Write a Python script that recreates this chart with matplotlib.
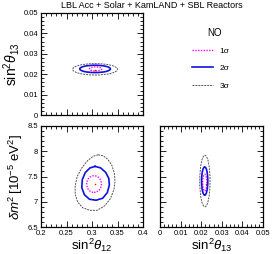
import matplotlib
matplotlib.use("Agg")
import matplotlib.pyplot as plt
from matplotlib.patches import Ellipse
from matplotlib.lines import Line2D
from matplotlib.ticker import MultipleLocator

plt.rcParams["font.family"] = ["Liberation Sans", "DejaVu Sans"]
plt.rcParams["mathtext.fontset"] = "custom"
plt.rcParams["mathtext.rm"] = "Liberation Sans"
plt.rcParams["mathtext.it"] = "Liberation Sans:italic"

# -----------------------------
# DATA
# -----------------------------
TITLE = "LBL Acc + Solar + KamLAND + SBL Reactors"
LEVELS = ["1σ", "2σ", "3σ"]

# best fit
BF_S12 = 0.305
BF_S13 = 0.0222
BF_DM = 7.36

# ellipse contours: centre and semi-axes per level (1σ, 2σ, 3σ)
# top-left panel (sin2 theta12, sin2 theta13)
TL_CENTER = [(0.307, 0.0226), (0.306, 0.0226), (0.306, 0.0224)]
TL_HALF = [(0.0120, 0.0010), (0.0300, 0.0018), (0.0440, 0.0028)]
# bottom-right panel (sin2 theta13, dm2)
BR_CENTER = [(0.0217, 7.38), (0.0217, 7.41), (0.0218, 7.41)]
BR_HALF = [(0.0010, 0.165), (0.0015, 0.28), (0.0025, 0.51)]
# bottom-left panel (sin2 theta12, dm2)
BL1_CENTER = (0.304, 7.35)
BL1_HALF = (0.0145, 0.165)
BL2_S12 = [0.306, 0.317, 0.327, 0.333, 0.334, 0.330, 0.321, 0.308,
           0.295, 0.285, 0.280, 0.281, 0.287, 0.296, 0.306]
BL2_DM = [7.70, 7.67, 7.58, 7.46, 7.33, 7.18, 7.07, 7.03,
          7.05, 7.14, 7.28, 7.44, 7.58, 7.67, 7.70]
BL3_S12 = [0.312, 0.322, 0.331, 0.339, 0.344, 0.345, 0.343, 0.336, 0.325, 0.310,
           0.296, 0.282, 0.272, 0.267, 0.267, 0.271, 0.280, 0.291, 0.302, 0.312]
BL3_DM = [7.93, 7.91, 7.84, 7.72, 7.56, 7.40, 7.24, 7.06, 6.92, 6.83,
          6.83, 6.88, 6.99, 7.15, 7.32, 7.50, 7.67, 7.81, 7.90, 7.93]

S12_TICKS = [0.2, 0.25, 0.3, 0.35, 0.4]
S12_LABELS = ["0.2", "0.25", "0.3", "0.35", "0.4"]
S13_TICKS = [0, 0.01, 0.02, 0.03, 0.04, 0.05]
S13_LABELS = ["0", "0.01", "0.02", "0.03", "0.04", "0.05"]
DM_TICKS = [6.5, 7, 7.5, 8, 8.5]
DM_LABELS = ["6.5", "7", "7.5", "8", "8.5"]

# -----------------------------
# STYLE
# -----------------------------
STYLES = [
    dict(color="#ff00ff", linestyle=(0, (1, 1)), linewidth=1.0),
    dict(color="#1010e0", linestyle="-", linewidth=1.2),
    dict(color="#555555", linestyle=(0, (2, 1)), linewidth=0.7),
]


def style_axes(ax):
    ax.tick_params(which="both", direction="in", top=True, right=True,
                   labelsize=5.5, width=0.6, pad=2)
    ax.tick_params(which="major", length=4)
    ax.tick_params(which="minor", length=2)
    for s in ax.spines.values():
        s.set_linewidth(0.9)


def add_ellipse(ax, c, h, st):
    ax.add_patch(Ellipse(c, 2 * h[0], 2 * h[1], fill=False, **st))


fig = plt.figure(figsize=(2.76, 2.54), dpi=100)
W, H = 276, 254
ax_tl = fig.add_axes([41 / W, 1 - 115 / H, 102 / W, 102 / H])
ax_bl = fig.add_axes([41 / W, 1 - 227 / H, 102 / W, 101 / H])
ax_br = fig.add_axes([160 / W, 1 - 227 / H, 103 / W, 101 / H])

# top-left
for c, h, st in zip(TL_CENTER, TL_HALF, STYLES):
    add_ellipse(ax_tl, c, h, st)
ax_tl.plot([BF_S12], [BF_S13], "s", color="red", ms=1, mew=0)
ax_tl.set_xlim(0.2, 0.4)
ax_tl.set_ylim(0, 0.05)
ax_tl.set_xticks(S12_TICKS)
ax_tl.set_xticklabels([])
ax_tl.set_yticks(S13_TICKS)
ax_tl.set_yticklabels(S13_LABELS)
ax_tl.xaxis.set_minor_locator(MultipleLocator(0.01))
ax_tl.yaxis.set_minor_locator(MultipleLocator(0.002))
ax_tl.set_ylabel(r"$\mathrm{sin}^2\theta_{13}$", fontsize=10, labelpad=1)
style_axes(ax_tl)

# bottom-left
add_ellipse(ax_bl, BL1_CENTER, BL1_HALF, STYLES[0])
ax_bl.plot(BL2_S12, BL2_DM, **STYLES[1])
ax_bl.plot(BL3_S12, BL3_DM, **STYLES[2])
ax_bl.plot([BF_S12], [BF_DM], "s", color="red", ms=1, mew=0)
ax_bl.set_xlim(0.2, 0.4)
ax_bl.set_ylim(6.5, 8.5)
ax_bl.set_xticks(S12_TICKS)
ax_bl.set_xticklabels(S12_LABELS)
ax_bl.set_yticks(DM_TICKS)
ax_bl.set_yticklabels(DM_LABELS)
ax_bl.xaxis.set_minor_locator(MultipleLocator(0.01))
ax_bl.yaxis.set_minor_locator(MultipleLocator(0.1))
ax_bl.set_xlabel(r"$\mathrm{sin}^2\theta_{12}$", fontsize=9.5, labelpad=0)
ax_bl.set_ylabel(r"$\delta m^2\,[10^{-5}\ \mathrm{eV}^2]$", fontsize=9.5, labelpad=2)
style_axes(ax_bl)

# bottom-right
for c, h, st in zip(BR_CENTER, BR_HALF, STYLES):
    add_ellipse(ax_br, c, h, st)
ax_br.plot([BF_S13], [BF_DM], "s", color="red", ms=1, mew=0)
ax_br.set_xlim(0, 0.05)
ax_br.set_ylim(6.5, 8.5)
ax_br.set_xticks(S13_TICKS)
ax_br.set_xticklabels(S13_LABELS)
ax_br.set_yticks(DM_TICKS)
ax_br.set_yticklabels([])
ax_br.xaxis.set_minor_locator(MultipleLocator(0.002))
ax_br.yaxis.set_minor_locator(MultipleLocator(0.1))
ax_br.set_xlabel(r"$\mathrm{sin}^2\theta_{13}$", fontsize=9.5, labelpad=0)
style_axes(ax_br)

# legend
handles = [Line2D([], [], **st) for st in STYLES]
leg = fig.legend(handles, LEVELS, title="NO", loc="upper left",
                 bbox_to_anchor=(184 / W, 1 - 20 / H), frameon=False,
                 fontsize=6, title_fontsize=7, handlelength=2.6,
                 labelspacing=1.15, handletextpad=0.8)
leg.get_title().set_position((4, 0))

fig.text(152 / W, 1 - 5 / H, TITLE, ha="center", va="center", fontsize=6.5)

fig.savefig("out.png", dpi=100)
